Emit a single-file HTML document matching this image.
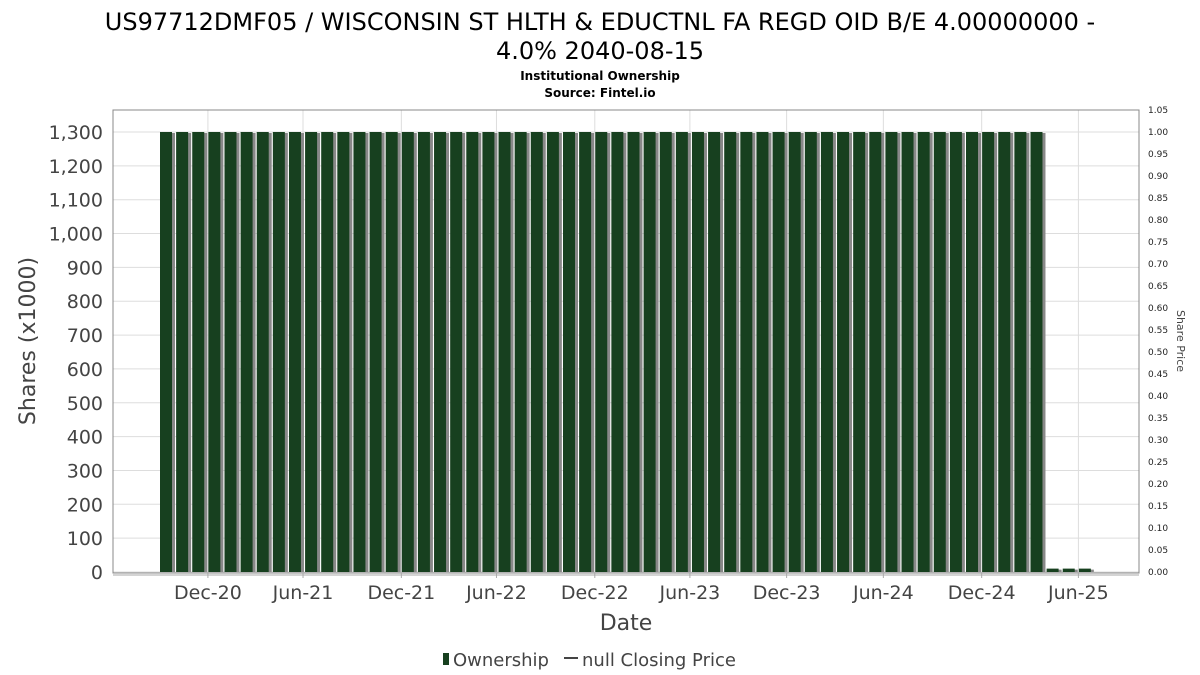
<!DOCTYPE html>
<html><head><meta charset="utf-8"><style>
body{margin:0;background:#fff;}
svg{display:block;font-family:"DejaVu Sans","Liberation Sans",sans-serif;}
</style></head><body>
<svg id="chart" width="1200" height="675" viewBox="0 0 1200 675" xmlns="http://www.w3.org/2000/svg">
<text x="600" y="30" font-size="24" text-anchor="middle" fill="#000">US97712DMF05 / WISCONSIN ST HLTH &amp; EDUCTNL FA REGD OID B/E 4.00000000 -</text>
<text x="600" y="59" font-size="24" text-anchor="middle" fill="#000">4.0% 2040-08-15</text>
<text x="600" y="80" font-size="12" font-weight="bold" text-anchor="middle">Institutional Ownership</text>
<text x="600" y="97" font-size="12" font-weight="bold" text-anchor="middle">Source: Fintel.io</text>
<g id="grid"></g>
<g id="bars"></g>
<rect x="113" y="110" width="1026" height="463" fill="none" stroke="#888" stroke-width="1"/>
<g id="yaxis"></g><g id="y2axis"></g><g id="xaxis"></g>
<text transform="translate(35,341) rotate(-90)" font-size="22" fill="#444" text-anchor="middle">Shares (x1000)</text>
<text transform="translate(1177,341) rotate(90)" font-size="11" fill="#444" text-anchor="middle">Share Price</text>
<text x="626" y="630" font-size="22" fill="#444" text-anchor="middle">Date</text>
<g>
<rect x="443" y="653" width="6" height="12" fill="#17401f"/>
<text x="453" y="666" font-size="18" fill="#444">Ownership</text>
<line x1="564" y1="658" x2="578" y2="658" stroke="#444" stroke-width="2"/>
<text x="582" y="666" font-size="18" fill="#444">null Closing Price</text>
</g>
</svg>
<script>
const values = [1300,1300,1300,1300,1300,1300,1300,1300,1300,1300,1300,1300,1300,1300,1300,1300,1300,1300,1300,1300,1300,1300,1300,1300,1300,1300,1300,1300,1300,1300,1300,1300,1300,1300,1300,1300,1300,1300,1300,1300,1300,1300,1300,1300,1300,1300,1300,1300,1300,1300,1300,1300,1300,1300,1300,10,10,10];
const yTicks = [0,100,200,300,400,500,600,700,800,900,1000,1100,1200,1300];
const y2Ticks = [0,0.05,0.1,0.15,0.2,0.25,0.3,0.35,0.4,0.45,0.5,0.55,0.6,0.65,0.7,0.75,0.8,0.85,0.9,0.95,1.0,1.05];
const xLabels = ["Dec-20","Jun-21","Dec-21","Jun-22","Dec-22","Jun-23","Dec-23","Jun-24","Dec-24","Jun-25"];
const xLabelIdx = [2.6,8.5,14.6,20.5,26.6,32.5,38.5,44.5,50.6,56.6];
{
const NS='http://www.w3.org/2000/svg';
const yMax=1365, plotTop=110, plotBot=572;
const y=v=>plotBot-(v/yMax)*(plotBot-plotTop);
const y2=v=>plotBot-(v/1.05)*(plotBot-plotTop);
const pitch=16.12, x0=160, bw=12;
const x=i=>x0+i*pitch;
function mk(t,a,p){const e=document.createElementNS(NS,t);for(const k in a)e.setAttribute(k,a[k]);p.appendChild(e);return e;}
const grid=document.getElementById('grid'),bars=document.getElementById('bars'),ya=document.getElementById('yaxis'),y2a=document.getElementById('y2axis'),xa=document.getElementById('xaxis');
yTicks.forEach(v=>{
  const g=mk('line',{x1:113,x2:1139,y1:y(v),y2:y(v),stroke:'#ddd'},grid);
  
  
  const t=mk('text',{x:103,y:y(v)+7,'font-size':19,'text-anchor':'end',fill:'#444'},ya);
  
  
  t.textContent=v.toLocaleString('en-US');
});
y2Ticks.forEach(v=>{
  const t=mk('text',{x:1148,y:y2(v)+3,'font-size':9,fill:'#222'},y2a);
  
  
  t.textContent=v.toFixed(2);
});
xLabels.forEach((l,k)=>{
  const px=x(xLabelIdx[k])+bw/2;
  const g=mk('line',{x1:px,x2:px,y1:110,y2:573,stroke:'#ddd'},grid);
  
  
  const tk=mk('line',{x1:px,x2:px,y1:573,y2:578,stroke:'#aaa'},xa);
  
  
  const t=mk('text',{x:px,y:599,'font-size':19,'text-anchor':'middle',fill:'#444'},xa);
  
  
  t.textContent=l;
});
const ax=mk('line',{x1:113,x2:1139,y1:575,y2:575,stroke:'#aaa'},xa);


values.forEach((v,i)=>{
  const s=mk('rect',{x:x(i)+3,y:y(v)+1,width:bw,height:Math.max(0,plotBot-y(v)-1),fill:'#888'},bars);
  
  
  const b=mk('rect',{x:x(i),y:y(v),width:bw,height:plotBot-y(v),fill:'#17401f'},bars);
  
  
});
}
</script>
</body></html>
